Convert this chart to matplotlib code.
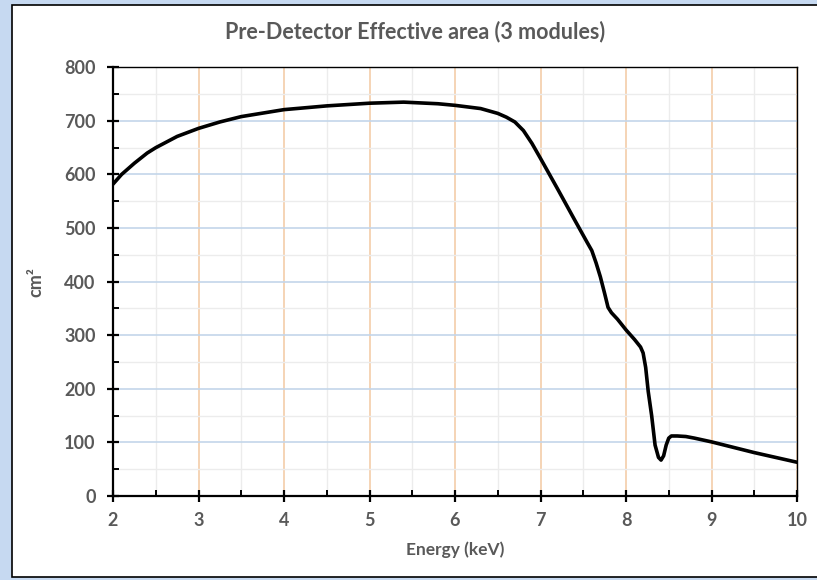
import matplotlib.pyplot as plt
from matplotlib.patches import Rectangle
from matplotlib.ticker import MultipleLocator

# energy (keV) vs effective area (cm^2)
energy = [2.0, 2.1, 2.25, 2.4, 2.5, 2.75, 3.0, 3.25, 3.5, 4.0, 4.5, 5.0, 5.4,
          5.8, 6.0, 6.3, 6.5, 6.6, 6.7, 6.8, 6.9, 7.0, 7.2, 7.4, 7.55, 7.6,
          7.65, 7.7, 7.75, 7.79, 7.83, 7.9, 8.0, 8.1, 8.17, 8.2, 8.23, 8.26,
          8.3, 8.34, 8.38, 8.41, 8.44, 8.47, 8.5, 8.53, 8.6, 8.7, 8.8, 9.0,
          9.25, 9.5, 9.75, 10.0]
area = [582, 600, 621, 640, 650, 671, 686, 698, 708, 721, 728, 733, 735,
        732, 729, 723, 714, 707, 698, 682, 658, 630, 573, 515, 472, 458,
        435, 409, 378, 352, 342, 330, 310, 292, 278, 267, 240, 195,
        150, 95, 72, 67, 75, 95, 108, 112, 112, 111, 108, 101,
        91, 81, 72, 63]

xticks = [2, 3, 4, 5, 6, 7, 8, 9, 10]
yticks = [0, 100, 200, 300, 400, 500, 600, 700, 800]

gray = "#595959"
font = "Lato"

fig = plt.figure(figsize=(8.17, 5.8), dpi=100)
fig.patch.set_facecolor("#c6d9f1")
fig.patches.append(Rectangle((12 / 817, 3 / 580), 1.0, 572 / 580,
                             transform=fig.transFigure, facecolor="white",
                             edgecolor="black", linewidth=1.2, zorder=-10))

ax = fig.add_axes([113 / 817, 1 - 496 / 580, 684 / 817, (496 - 67.3) / 580])
ax.set_facecolor("white")

ax.plot(energy, area, color="black", linewidth=2.6, zorder=5,
        solid_capstyle="round", solid_joinstyle="round")

ax.set_xlim(2, 10)
ax.set_ylim(0, 800)
ax.set_xticks(xticks)
ax.set_yticks(yticks)
ax.xaxis.set_minor_locator(MultipleLocator(0.5))
ax.yaxis.set_minor_locator(MultipleLocator(50))

ax.grid(True, which="minor", axis="both", color="#ececec", linewidth=1.0)
ax.grid(True, which="major", axis="x", color="#f4cda9", linewidth=1.2)
ax.grid(True, which="major", axis="y", color="#c3d6ea", linewidth=1.2)
ax.set_axisbelow(True)

for s in ["left", "bottom"]:
    ax.spines[s].set_linewidth(1.6)
for s in ["top", "right"]:
    ax.spines[s].set_linewidth(1.0)

ax.tick_params(which="major", direction="inout", length=9, width=1.6,
               colors="black", labelcolor=gray)
ax.tick_params(axis="x", which="major", pad=7)
ax.tick_params(axis="y", which="major", pad=8)
ax.tick_params(which="minor", direction="in", length=4, width=1.4,
               colors="black")
for lab in ax.get_xticklabels() + ax.get_yticklabels():
    lab.set_fontfamily(font)
    lab.set_fontweight("bold")
    lab.set_fontsize(13)

ax.set_xlabel("Energy (keV)", fontfamily=font, fontweight="bold",
              fontsize=12.5, color=gray, labelpad=9)
ax.set_ylabel("cm²", fontfamily=font, fontweight="bold", fontsize=13,
              color=gray, labelpad=14)
fig.text(415 / 817, 1 - 32 / 580, "Pre-Detector Effective area (3 modules)",
         ha="center", va="center", fontfamily=font, fontweight="bold",
         fontsize=15.5, color=gray)

fig.savefig("out.png", dpi=100, facecolor=fig.get_facecolor())
